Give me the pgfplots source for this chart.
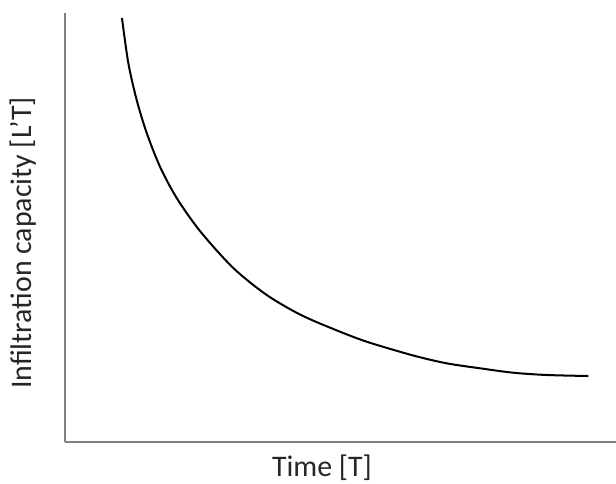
\documentclass[border=0pt]{standalone}
\usepackage{fontspec}
\setmainfont{Carlito}
\usepackage{pgfplots}
\pgfplotsset{compat=1.18}
\begin{document}
\begin{tikzpicture}
\path[use as bounding box] (0,0) rectangle (616bp,484bp);
\begin{axis}[
  at={(65bp,42bp)}, anchor=south west,
  scale only axis, width=551bp, height=429bp,
  xmin=0, xmax=10, ymin=0, ymax=10,
  axis lines=left,
  axis line style={-, line width=2bp, color=black!50},
  xtick=\empty, ytick=\empty,
  xlabel={Time [T]},
  ylabel={Infiltration capacity [L'T]},
  every axis x label/.style={at={(axis description cs:0.4664,-0.0793)}, anchor=base, font=\fontsize{30}{36}\selectfont, text=black!85},
  every axis y label/.style={at={(axis description cs:-0.0599,0.4639)}, anchor=base, rotate=90, font=\fontsize{30}{36}\selectfont, text=black!85},
  clip=false,
]
\addplot[black, line width=2bp, smooth] coordinates {
(1.034,9.883) (1.149,8.834) (1.301,7.972) (1.483,7.203) (1.724,6.417)
(2.027,5.688) (2.450,4.918) (3.054,4.056) (3.661,3.427) (4.265,2.972)
(4.869,2.634) (5.475,2.338) (6.321,2.016) (6.927,1.834) (7.532,1.718)
(8.136,1.615) (8.742,1.562) (9.497,1.538)
};
\end{axis}
\end{tikzpicture}
\end{document}
